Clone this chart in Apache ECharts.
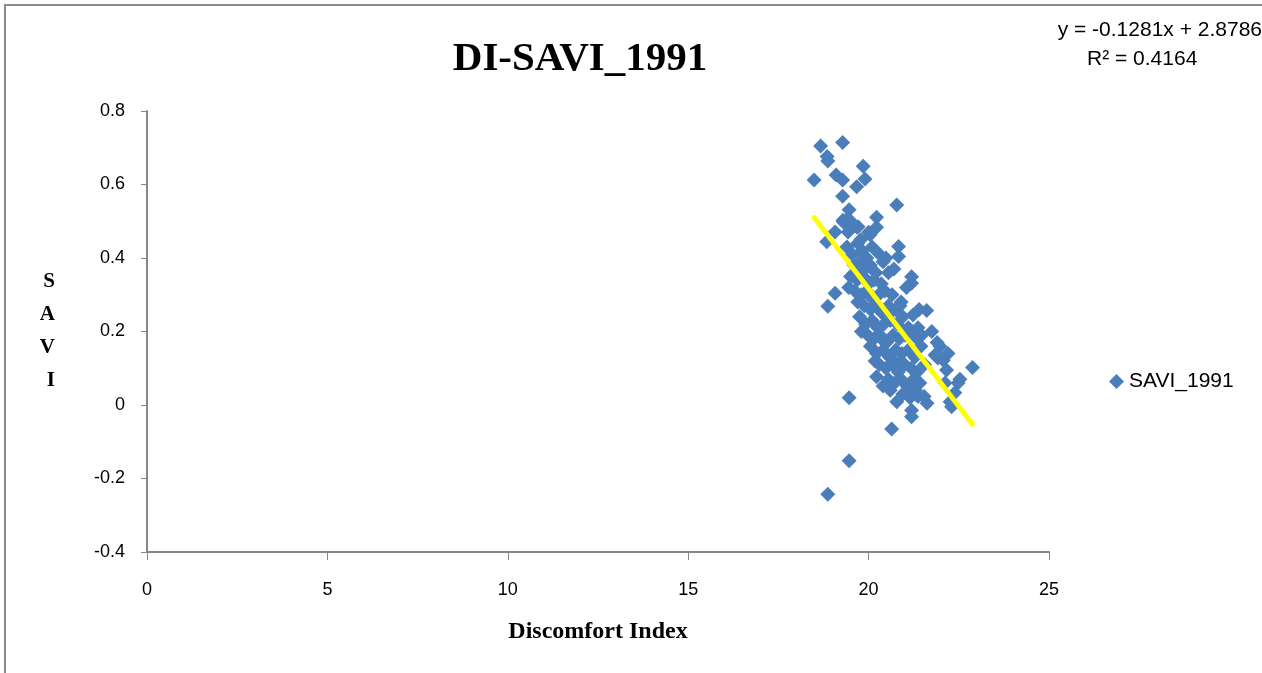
<!DOCTYPE html>
<html>
<head>
<meta charset="utf-8">
<script src="https://cdn.jsdelivr.net/npm/echarts@6/dist/echarts.min.js"></script>
<style>
html,body{margin:0;padding:0;background:#fff;}
#c{width:1262px;height:673px;}
</style>
</head>
<body>
<div id="c"></div>
<script>
// ---- data ----
const seriesName = 'SAVI_1991';
const titleText = 'DI-SAVI_1991';
const xTicks = [0, 5, 10, 15, 20, 25];
const yTicks = [-0.4, -0.2, 0, 0.2, 0.4, 0.6, 0.8];
const trendSlope = -0.1281;
const trendIntercept = 2.8786;
const rSquared = 0.4164;
const diValues = [
 18.49,18.67,19.28,18.85,18.87,19.85,19.10,19.28,19.90,19.67,19.28,20.78,19.46,19.37,19.51,19.30,
 20.22,20.22,19.71,20.04,18.84,19.07,19.07,18.87,20.83,20.83,21.19,21.19,21.61,22.88,22.53,22.30,
 21.98,22.07,22.16,19.46,20.64,19.46,18.87,21.19,21.19,20.78,20.22,20.40,21.37,
 19.29,19.48,19.68,19.43,
 21.23,21.37,21.47,20.87,21.84,21.92,22.12,22.48,22.39,22.26,21.20,21.54,21.62,
 19.40,19.55,19.70,19.82,19.95,20.10,20.30,19.60,19.75,19.90,20.05,20.20,20.40,
 19.50,19.68,19.85,20.00,20.15,20.35,20.55,19.45,19.62,19.80,19.95,20.10,20.28,20.45,20.65,
 19.70,19.88,20.05,20.20,20.38,20.55,20.75,20.90,19.75,19.92,20.10,20.25,20.42,20.60,20.80,20.95,21.10,
 19.80,19.98,20.15,20.32,20.50,20.68,20.85,21.02,21.20,21.35,
 20.05,20.22,20.40,20.58,20.75,20.92,21.10,21.28,21.45,
 20.30,20.48,20.65,20.82,21.00,21.18,21.35,21.55,
 20.55,20.72,20.90,21.08,21.25,21.42,20.95,21.15,21.30,
 19.62,19.78,20.00,20.48,20.70,20.58,21.05,20.35,20.18,21.40,21.75,21.90,22.20,20.60,20.88
];
const saviValues = [
 0.612,0.705,0.714,0.676,0.664,0.650,0.626,0.612,0.615,0.594,0.568,0.544,0.531,0.502,0.498,0.498,
 0.511,0.484,0.485,0.463,0.444,0.471,0.304,0.269,0.431,0.404,0.349,0.331,0.257,0.102,0.070,-0.005,
 0.159,0.122,0.095,0.020,-0.065,-0.152,-0.243,-0.014,-0.032,0.009,0.077,0.052,0.023,
 0.503,0.503,0.484,0.471,
 0.245,0.210,0.190,0.270,0.136,0.128,0.060,0.060,0.033,0.009,0.050,0.023,0.005,
 0.43,0.41,0.44,0.42,0.40,0.43,0.41,0.38,0.39,0.37,0.38,0.36,0.39,
 0.35,0.34,0.35,0.33,0.34,0.33,0.36,0.32,0.31,0.30,0.31,0.29,0.30,0.31,0.30,
 0.28,0.27,0.26,0.27,0.25,0.27,0.26,0.28,0.24,0.22,0.23,0.21,0.22,0.23,0.22,0.24,0.21,
 0.20,0.19,0.18,0.19,0.17,0.19,0.18,0.19,0.20,0.18,
 0.16,0.14,0.15,0.13,0.15,0.14,0.15,0.13,0.16,
 0.11,0.10,0.11,0.09,0.11,0.10,0.09,0.11,
 0.07,0.06,0.07,0.05,0.07,0.06,0.03,0.02,0.04,
 0.36,0.45,0.47,0.40,0.37,0.25,0.32,0.18,0.12,0.26,0.20,0.17,0.14,0.04,0.12
];

const points = diValues.map((x, i) => [x, saviValues[i]]);
const xMinData = Math.min(...diValues);
const xMaxData = Math.max(...diValues);
const trend = [xMinData, xMaxData].map(x => [x, trendSlope * x + trendIntercept]);

const chart = echarts.init(document.getElementById('c'), null, {renderer: 'canvas'});
const axisCol = '#868686';
const lblFont = {fontFamily: 'Liberation Sans', fontSize: 18, color: '#000'};

chart.setOption({
  animation: false,
  backgroundColor: '#fff',
  title: {
    text: titleText,
    left: 575, top: 34,
    textAlign: 'center',
    textStyle: {fontFamily: 'Liberation Serif', fontWeight: 'bold', fontSize: 41, color: '#000'}
  },
  legend: {
    data: [{name: seriesName, icon: 'diamond'}],
    left: 1104, top: 366,
    itemWidth: 15, itemHeight: 15, itemGap: 8,
    textStyle: {fontFamily: 'Liberation Sans', fontSize: 21, color: '#000'}
  },
  graphic: [
    {type: 'rect', shape: {x: 5, y: 5, width: 1400, height: 800}, style: {fill: 'none', stroke: '#8a8a8a', lineWidth: 2}, silent: true},
    {type: 'text', right: 0, top: 20, style: {text: 'y = ' + trendSlope + 'x + ' + trendIntercept, font: '21px "Liberation Sans"', fill: '#000'}},
    {type: 'text', left: 1087, top: 49, style: {text: 'R² = ' + rSquared, font: '21px "Liberation Sans"', fill: '#000'}}
  ],
  grid: {left: 147, right: 213, top: 111, bottom: 121},
  xAxis: {
    type: 'value', min: xTicks[0], max: xTicks[xTicks.length - 1], interval: 5,
    name: 'Discomfort Index', nameLocation: 'middle', nameGap: 68,
    nameTextStyle: {fontFamily: 'Liberation Serif', fontWeight: 'bold', fontSize: 24, color: '#000'},
    axisLine: {onZero: false, lineStyle: {color: axisCol, width: 2}},
    axisTick: {show: true, length: 8, inside: false, lineStyle: {color: axisCol, width: 1}},
    axisLabel: Object.assign({margin: 29}, lblFont),
    splitLine: {show: false}
  },
  yAxis: {
    type: 'value', min: yTicks[0], max: yTicks[yTicks.length - 1], interval: 0.2,
    name: 'S\nA\nV\nI', nameLocation: 'middle', nameRotate: 0, nameGap: 92,
    nameTextStyle: {fontFamily: 'Liberation Serif', fontWeight: 'bold', fontSize: 21, color: '#000', lineHeight: 33, padding: [12, 0, 0, 0]},
    axisLine: {show: true, lineStyle: {color: axisCol, width: 2}},
    axisTick: {show: true, length: 6, inside: false, lineStyle: {color: axisCol, width: 1}},
    axisLabel: Object.assign({margin: 22, formatter: v => String(Math.round(v * 10) / 10)}, lblFont),
    splitLine: {show: false}
  },
  series: [
    {
      name: seriesName, type: 'scatter', data: points,
      symbol: 'diamond', symbolSize: 15,
      itemStyle: {color: '#4A7EBB', opacity: 1}, z: 2
    },
    {
      name: 'trend', type: 'line', data: trend, symbol: 'none',
      lineStyle: {color: '#FFFF00', width: 5, cap: 'round'}, z: 3, silent: true
    }
  ]
});
</script>
</body>
</html>
